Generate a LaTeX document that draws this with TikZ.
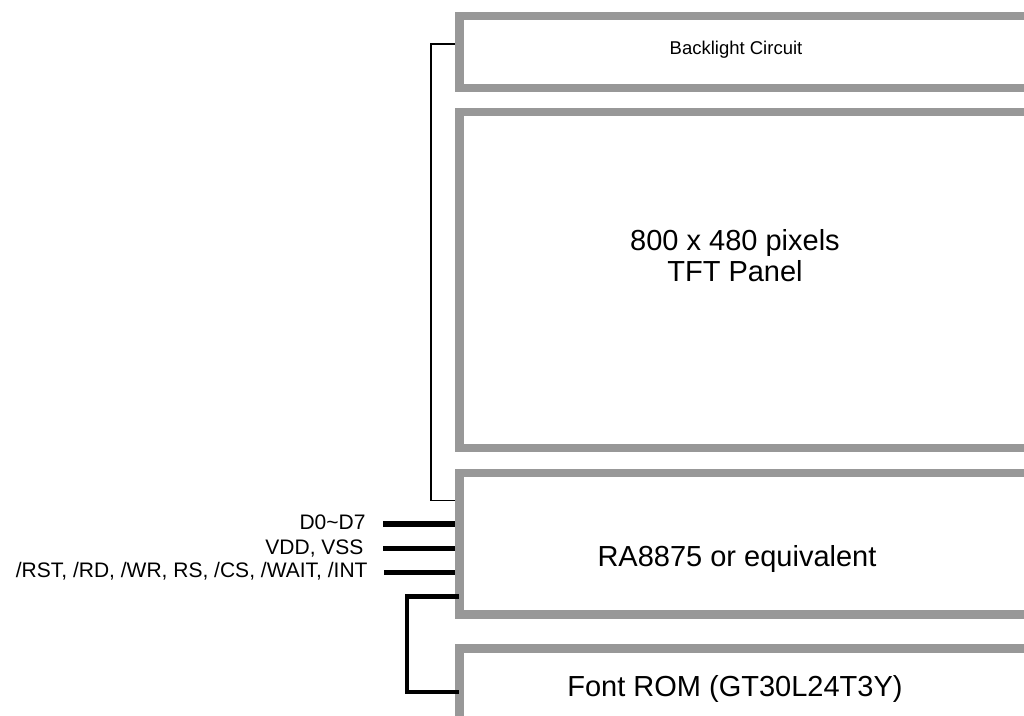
\documentclass[tikz,border=0pt]{standalone}
\usepackage{fontspec}
\setmainfont{Liberation Sans}
\definecolor{boxgray}{RGB}{152,152,152}
\begin{document}
\begin{tikzpicture}[x=1pt, y=-1pt,
	panel/.style={draw=boxgray, line width=8.5pt, inner sep=0pt, anchor=north west, minimum width=600},
	boxtext/.style={anchor=base, font=\fontsize{29}{33}\selectfont},
	pin/.style={anchor=base east, font=\fontsize{21}{24}\selectfont},
	bus/.style={line width=5.5pt},
	link/.style={line width=1.3pt},
	romlink/.style={line width=4.6pt}]
				% 1. 画布
				\useasboundingbox (0,0) rectangle (1024,715);
				\clip (0,0) rectangle (1024,715);
				
				% 2. 方框
				\node[panel, minimum height=72.2] (backlight) at (455,11.5) {};
				\node[panel, minimum height=336] (tft) at (455,107.5) {};
				\node[panel, minimum height=141.5] (ra) at (455,468.5) {};
				\node[panel, minimum height=73] (rom) at (455,644.3) {};
				
				% 3. 文字
				\node[boxtext, font=\fontsize{18.5}{22}\selectfont] (bltext) at (736,54) {Backlight Circuit};
				\node[boxtext] (tfttop) at (735,250) {800 x 480 pixels};
				\node[boxtext] (tftbot) at (735,281.7) {TFT Panel};
				\node[boxtext] (ratext) at (737,566) {RA8875 or equivalent};
				\node[boxtext] (romtext) at (735,696) {Font ROM (GT30L24T3Y)};
				
				% 4. 引脚
				\node[pin] (pdata) at (369,529) {D0\textasciitilde D7};
				\node[pin] (ppower) at (367,554) {VDD, VSS};
				\node[pin] (pctrl) at (371,577) {/RST, /RD, /WR, RS, /CS, /WAIT, /INT};
				\draw[bus] (383,524) -- (ra.west |- 0,524);
				\draw[bus] (383,548.5) -- (ra.west |- 0,548.5);
				\draw[bus] (384,572.5) -- (ra.west |- 0,572.5);
				
				% 5. 连线
				\draw[link] (backlight.west |- 0,44) -- (431,44) |- (ra.west |- 0,500.7);
				\draw[romlink] ([xshift=4pt]ra.west |- 0,596.7) -- (407,596.7) |- ([xshift=4pt]rom.west |- 0,692);
			\end{tikzpicture}
\end{document}
